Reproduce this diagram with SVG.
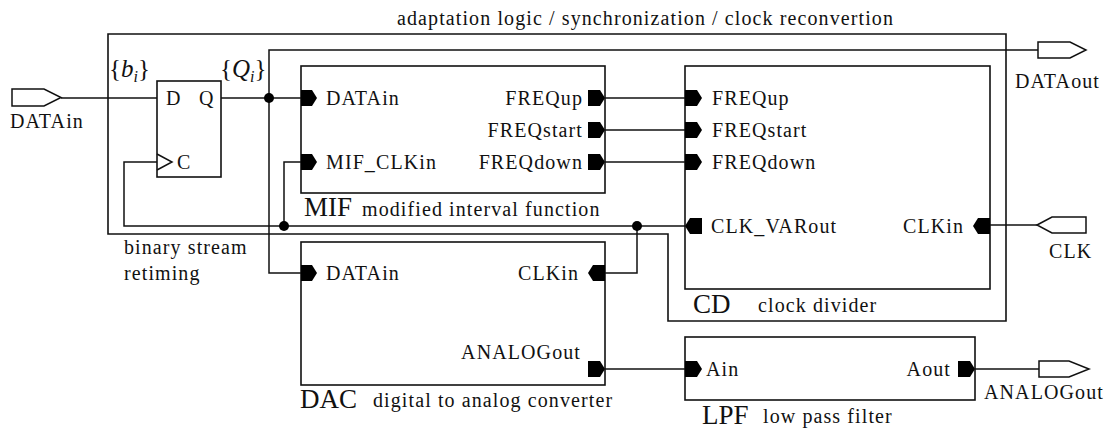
<svg xmlns="http://www.w3.org/2000/svg" width="1116" height="430" viewBox="0 0 1116 430">
<defs>
<style>
.t{font-family:"Liberation Serif","Times New Roman",serif;font-size:20px;letter-spacing:1.1px;fill:#111}
.big{font-family:"Liberation Serif","Times New Roman",serif;font-size:27px;fill:#111}
.mi{font-family:"Liberation Serif","Times New Roman",serif;font-size:25px;fill:#111}
.e{text-anchor:end}
.box{fill:none;stroke:#111;stroke-width:1.6}
.w{fill:none;stroke:#111;stroke-width:1.5}
.pm{fill:#000;stroke:none}
.port{fill:#fff;stroke:#111;stroke-width:1.5}
.dot{fill:#000}
</style>
</defs>
<rect x="0" y="0" width="1116" height="430" fill="#fff"/>

<g id="adaptation">
<polygon class="box" points="108,34 1006,34 1006,321 668,321 668,234 108,234"/>
<text class="t" x="397" y="25">adaptation logic / synchronization / clock reconvertion</text>
<text class="t" x="124" y="254">binary stream</text>
<text class="t" x="124" y="280">retiming</text>
</g>

<g id="connectors">
<polyline class="w" points="61,98 157,98"/>
<polyline class="w" points="221,98 301,98"/>
<polyline class="w" points="1038,50 269,50 269,273 301,273"/>
<polyline class="w" points="605,98 685,98"/>
<polyline class="w" points="605,130 685,130"/>
<polyline class="w" points="605,162 685,162"/>
<polyline class="w" points="685,226 124,226 124,162 157,162"/>
<polyline class="w" points="284,226 284,162 301,162"/>
<polyline class="w" points="637,226 637,273 605,273"/>
<polyline class="w" points="1037,225 990,225"/>
<polyline class="w" points="605,369 685,369"/>
<polyline class="w" points="975,369 1039,369"/>
<circle class="dot" cx="269" cy="98" r="5"/>
<circle class="dot" cx="284" cy="226" r="5"/>
<circle class="dot" cx="637" cy="226" r="5"/>
</g>

<g id="port-datain">
<polygon class="port" points="12,89 44,89 61,97.5 44,106 12,106"/>
<text class="t" x="10" y="128">DATAin</text>
</g>
<g id="port-dataout">
<polygon class="port" points="1038,42 1070,42 1086,50 1070,58 1038,58"/>
<text class="t" x="1015" y="88">DATAout</text>
</g>
<g id="port-clk">
<polygon class="port" points="1037,225 1052,217 1086,217 1086,233 1052,233"/>
<text class="t" x="1049" y="258">CLK</text>
</g>
<g id="port-analogout">
<polygon class="port" points="1039,361 1069,361 1089,369 1069,377 1039,377"/>
<text class="t" x="984" y="399">ANALOGout</text>
</g>

<g id="flipflop">
<rect class="box" x="157" y="81" width="64" height="96"/>
<polyline class="w" points="157,154 172,162 157,170"/>
<text class="t" x="166" y="105">D</text>
<text class="t" x="199" y="105">Q</text>
<text class="t" x="177" y="169">C</text>
<text class="mi" x="109" y="77">{<tspan font-style="italic">b</tspan><tspan font-style="italic" font-size="16" dy="5">i</tspan><tspan dy="-5">}</tspan></text>
<text class="mi" x="220" y="77">{<tspan font-style="italic">Q</tspan><tspan font-style="italic" font-size="16" dy="5">i</tspan><tspan dy="-5">}</tspan></text>
</g>

<g id="mif">
<rect class="box" x="301" y="66" width="304" height="127"/>
<polygon class="pm" points="301,90 312,90 317,98 312,106 301,106"/>
<polygon class="pm" points="301,154 312,154 317,162 312,170 301,170"/>
<polygon class="pm" points="588,90 600,90 605,98 600,106 588,106"/>
<polygon class="pm" points="588,122 600,122 605,130 600,138 588,138"/>
<polygon class="pm" points="588,154 600,154 605,162 600,170 588,170"/>
<text class="t" x="326" y="105">DATAin</text>
<text class="t" x="326" y="169">MIF_CLKin</text>
<text class="t e" x="583" y="105">FREQup</text>
<text class="t e" x="583" y="137">FREQstart</text>
<text class="t e" x="583" y="169">FREQdown</text>
<text class="big" x="304" y="216">MIF</text>
<text class="t" x="362" y="216">modified interval function</text>
</g>

<g id="cd">
<rect class="box" x="685" y="66" width="305" height="223"/>
<polygon class="pm" points="685,90 697,90 702,98 697,106 685,106"/>
<polygon class="pm" points="685,122 697,122 702,130 697,138 685,138"/>
<polygon class="pm" points="685,154 697,154 702,162 697,170 685,170"/>
<polygon class="pm" points="685,226 690,218 702,218 702,234 690,234"/>
<polygon class="pm" points="973,226 978,218 990,218 990,234 978,234"/>
<text class="t" x="712" y="105">FREQup</text>
<text class="t" x="712" y="137">FREQstart</text>
<text class="t" x="712" y="169">FREQdown</text>
<text class="t" x="711" y="233">CLK_VARout</text>
<text class="t e" x="964" y="233">CLKin</text>
<text class="big" x="693" y="313">CD</text>
<text class="t" x="758" y="312">clock divider</text>
</g>

<g id="dac">
<rect class="box" x="301" y="242" width="304" height="143"/>
<polygon class="pm" points="301,265 312,265 317,273 312,281 301,281"/>
<polygon class="pm" points="588,273 593,265 605,265 605,281 593,281"/>
<polygon class="pm" points="588,361 600,361 605,369 600,377 588,377"/>
<text class="t" x="326" y="280">DATAin</text>
<text class="t e" x="579" y="280">CLKin</text>
<text class="t e" x="581" y="359">ANALOGout</text>
<text class="big" x="300" y="408">DAC</text>
<text class="t" x="373" y="407">digital to analog converter</text>
</g>

<g id="lpf">
<rect class="box" x="685" y="337" width="290" height="63"/>
<polygon class="pm" points="685,361 697,361 702,369 697,377 685,377"/>
<polygon class="pm" points="958,361 970,361 975,369 970,377 958,377"/>
<text class="t" x="706" y="376">Ain</text>
<text class="t e" x="951" y="376">Aout</text>
<text class="big" x="702" y="424">LPF</text>
<text class="t" x="763" y="423">low pass filter</text>
</g>
</svg>
